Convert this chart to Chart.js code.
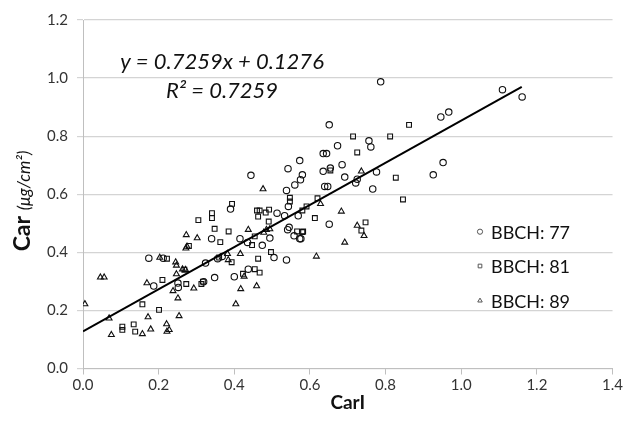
<!DOCTYPE html>
<html>
<head>
<meta charset="utf-8">
<script src="https://cdn.jsdelivr.net/npm/chart.js@4"></script>
<style>
  html, body { margin: 0; padding: 0; background: #fff; }
  #wrap { width: 625px; height: 421px; }
</style>
</head>
<body>
<div id="wrap"><canvas id="chart" width="625" height="421"></canvas></div>
<script>
// BBCH 77 (circles)
const bbch77X = [0.651, 0.673, 0.573, 0.542, 0.444, 0.580, 0.635, 0.644, 0.635, 0.654, 0.575, 0.560, 0.538, 0.639, 0.647,
  0.787, 1.109, 1.161, 0.946, 0.967, 0.756, 0.761, 0.685, 0.692, 0.776, 0.926, 0.952, 0.721, 0.725, 0.766, 0.651, 0.576,
  0.174, 0.187, 0.212, 0.251, 0.252, 0.319, 0.324, 0.340, 0.348, 0.356, 0.368, 0.390, 0.400, 0.415, 0.437, 0.435, 0.474,
  0.494, 0.505, 0.513, 0.533, 0.543, 0.538, 0.541, 0.545, 0.558, 0.569, 0.573];
const bbch77Y = [0.839, 0.767, 0.716, 0.688, 0.665, 0.667, 0.740, 0.740, 0.679, 0.690, 0.650, 0.632, 0.613, 0.627, 0.627,
  0.987, 0.960, 0.935, 0.866, 0.883, 0.784, 0.763, 0.702, 0.659, 0.677, 0.667, 0.709, 0.639, 0.652, 0.618, 0.497, 0.447,
  0.380, 0.284, 0.380, 0.294, 0.279, 0.299, 0.363, 0.447, 0.313, 0.378, 0.386, 0.549, 0.316, 0.447, 0.342, 0.434, 0.424,
  0.449, 0.382, 0.535, 0.526, 0.558, 0.374, 0.478, 0.486, 0.457, 0.526, 0.447];

// BBCH 81 (squares)
const bbch81X = [0.654, 0.547, 0.620, 0.862, 0.714, 0.812, 0.725, 0.827, 0.846, 0.591, 0.580, 0.613, 0.747, 0.736, 0.580,
  0.104, 0.104, 0.134, 0.138, 0.157, 0.201, 0.210, 0.222, 0.273, 0.280, 0.268, 0.305, 0.313, 0.317, 0.341, 0.341, 0.348,
  0.363, 0.360, 0.385, 0.394, 0.393, 0.423, 0.447, 0.454, 0.454, 0.463, 0.460, 0.467, 0.463, 0.467, 0.483, 0.492, 0.491,
  0.497, 0.547, 0.566, 0.582];
const bbch81Y = [0.682, 0.588, 0.586, 0.839, 0.799, 0.799, 0.744, 0.657, 0.582, 0.558, 0.544, 0.518, 0.503, 0.475, 0.470,
  0.144, 0.133, 0.152, 0.127, 0.221, 0.202, 0.305, 0.378, 0.291, 0.422, 0.340, 0.511, 0.291, 0.299, 0.535, 0.518, 0.481,
  0.435, 0.382, 0.472, 0.567, 0.366, 0.326, 0.425, 0.342, 0.455, 0.378, 0.544, 0.544, 0.523, 0.330, 0.537, 0.547, 0.506,
  0.401, 0.575, 0.472, 0.472];

// BBCH 89 (triangles)
const bbch89X = [0.476, 0.736, 0.628, 0.683, 0.725, 0.743, 0.692, 0.617, 0.005, 0.046, 0.056, 0.069, 0.075, 0.157, 0.172,
  0.169, 0.179, 0.203, 0.221, 0.222, 0.228, 0.245, 0.247, 0.238, 0.247, 0.254, 0.251, 0.263, 0.271, 0.273, 0.272, 0.275,
  0.302, 0.293, 0.382, 0.384, 0.404, 0.417, 0.416, 0.426, 0.437, 0.459, 0.478, 0.485, 0.494];
const bbch89Y = [0.618, 0.679, 0.567, 0.541, 0.492, 0.457, 0.434, 0.386, 0.222, 0.314, 0.314, 0.173, 0.116, 0.119, 0.177,
  0.294, 0.135, 0.382, 0.153, 0.127, 0.133, 0.366, 0.355, 0.267, 0.325, 0.181, 0.242, 0.342, 0.340, 0.460, 0.414, 0.420,
  0.449, 0.276, 0.395, 0.374, 0.222, 0.274, 0.395, 0.317, 0.478, 0.284, 0.468, 0.478, 0.480];

// linear trend line end points
const trendX = [0.0, 1.16];
const trendY = [0.128, 0.970];

const seriesLabels = ['BBCH: 77', 'BBCH: 81', 'BBCH: 89'];
const equationLines = ['y = 0.7259x + 0.1276', 'R² = 0.7259'];

const FONT = 'Lato, "Open Sans", sans-serif';

const toPoints = (xs, ys) => xs.map((x, i) => ({ x: x, y: ys[i] }));

function markerSet(label, xs, ys, style, radius) {
  return {
    label: label,
    data: toPoints(xs, ys),
    pointStyle: style,
    pointRadius: radius,
    pointBorderColor: '#111',
    pointBackgroundColor: 'rgba(255,255,255,0)',
    pointBorderWidth: 1.1,
    showLine: false
  };
}

// draws equation, y title and the in-plot legend
const annotations = {
  id: 'annotations',
  afterDraw(chart) {
    const ctx = chart.ctx;
    ctx.save();
    ctx.fillStyle = '#111';
    ctx.textAlign = 'center';
    ctx.textBaseline = 'middle';
    ctx.font = 'italic 22px ' + FONT;
    ctx.fillText(equationLines[0], 222, 62);
    ctx.fillText(equationLines[1], 222, 91);

    // y axis title, mixed fonts
    ctx.translate(22, 201);
    ctx.rotate(-Math.PI / 2);
    const boldFont = 'bold 23px ' + FONT;
    const italFont = 'italic 17px ' + FONT;
    ctx.font = boldFont;
    const w1 = ctx.measureText('Car ').width;
    ctx.font = italFont;
    const w2 = ctx.measureText('(μg/cm²)').width;
    const start = -(w1 + w2) / 2;
    ctx.textAlign = 'left';
    ctx.textBaseline = 'alphabetic';
    ctx.font = boldFont;
    ctx.fillText('Car ', start, 8);
    ctx.font = italFont;
    ctx.fillText('(μg/cm²)', start + w1, 8);
    ctx.restore();

    // legend
    ctx.save();
    const styles = ['circle', 'rect', 'triangle'];
    const rows = [231.7, 266, 300.7];
    ctx.textBaseline = 'middle';
    rows.forEach((y, i) => {
      ctx.fillStyle = '#fff';
      ctx.strokeStyle = '#555';
      ctx.lineWidth = 1;
      Chart.helpers.drawPoint(ctx, {
        pointStyle: styles[i], radius: 2.6, borderWidth: 1
      }, 480, y);
      ctx.fillStyle = '#111';
      ctx.font = '18px ' + FONT;
      ctx.fillText(seriesLabels[i], 491, y + 1);
    });
    ctx.restore();
  }
};

new Chart(document.getElementById('chart'), {
  type: 'scatter',
  data: {
    datasets: [
      {
        label: 'trend',
        data: toPoints(trendX, trendY),
        showLine: true,
        borderColor: '#000',
        borderWidth: 2,
        pointRadius: 0,
        order: 0
      },
      markerSet(seriesLabels[0], bbch77X, bbch77Y, 'circle', 3.2),
      markerSet(seriesLabels[1], bbch81X, bbch81Y, 'rect', 3.4),
      markerSet(seriesLabels[2], bbch89X, bbch89Y, 'triangle', 3.4)
    ]
  },
  options: {
    responsive: false,
    animation: false,
    layout: { padding: { top: 20, right: 12, left: 0, bottom: 0 } },
    scales: {
      x: {
        type: 'linear',
        min: 0,
        max: 1.4,
        afterFit: (scale) => { scale.height = 52.5; },
        border: { color: '#bfbfbf' },
        grid: { drawOnChartArea: false, drawTicks: true, tickLength: 6, color: '#bfbfbf' },
        ticks: {
          stepSize: 0.2,
          color: '#333',
          padding: 2,
          font: { family: FONT, size: 15 },
          callback: (v) => v.toFixed(1)
        },
        title: {
          display: true,
          text: 'CarI',
          color: '#111',
          font: { family: FONT, size: 19, weight: 'bold' },
          padding: { top: 0, bottom: 7 }
        }
      },
      y: {
        min: 0,
        max: 1.2,
        afterFit: (scale) => { scale.width = 83; },
        border: { color: '#bfbfbf' },
        grid: { color: '#d4d4d4', tickLength: 6, lineWidth: 1.2 },
        ticks: {
          stepSize: 0.2,
          color: '#333',
          padding: 9,
          font: { family: FONT, size: 15 },
          callback: (v) => v.toFixed(1)
        }
      }
    },
    plugins: {
      legend: { display: false },
      tooltip: { enabled: false }
    }
  },
  plugins: [annotations]
});
</script>
</body>
</html>
